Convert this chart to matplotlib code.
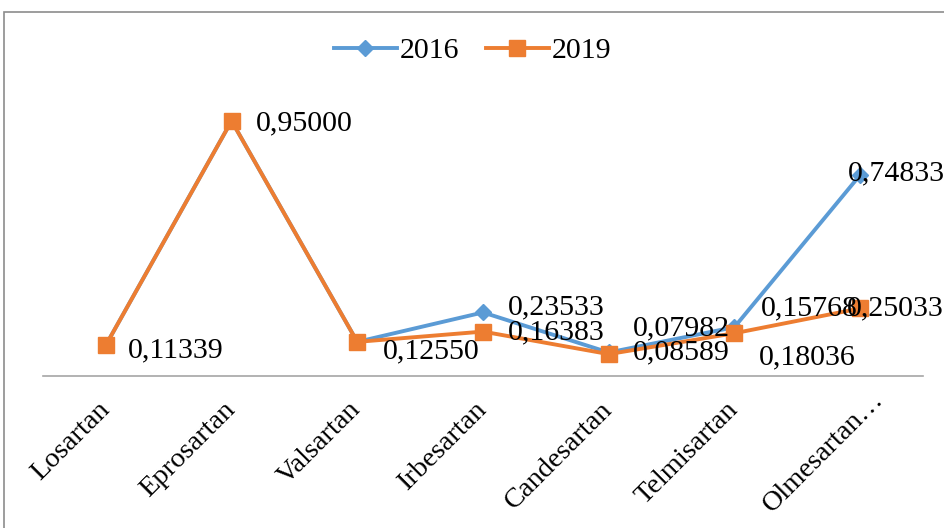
import numpy as np
import matplotlib
matplotlib.use("Agg")
import matplotlib.pyplot as plt
import matplotlib.transforms as mtransforms
from matplotlib.patches import Rectangle

plt.rcParams['font.family'] = ['Liberation Serif', 'DejaVu Serif']

categories = ['Losartan', 'Eprosartan', 'Valsartan', 'Irbesartan',
              'Candesartan', 'Telmisartan', 'Olmesartan…']
vals_2016 = [0.11339, 0.95000, 0.12550, 0.23533, 0.08589, 0.18036, 0.74833]
vals_2019 = [0.11339, 0.95000, 0.12550, 0.16383, 0.07982, 0.15768, 0.25033]

# which labels are shown and where (pixel offsets from the point)
lab_2016 = {3: (25, 5), 4: (24, 0), 5: (24, -30), 6: (-12, 2)}
lab_2019 = {0: (22, -5), 1: (24, -2), 2: (26, -10), 3: (25, -1),
            4: (24, 26), 5: (26, 25), 6: (-13, 0)}

blue = '#5B9BD5'
orange = '#ED7D31'

fig = plt.figure(figsize=(9.45, 5.28), dpi=100)
ax = fig.add_axes([43/945, 152.5/528, 880/945, 321.6/528])

x = np.arange(len(categories))
ax.plot(x, vals_2016, color=blue, lw=2.8, marker='D', ms=8, label='2016', zorder=3)
ax.plot(x, vals_2019, color=orange, lw=2.8, marker='s', ms=11.5, label='2019', zorder=4)

for vals, labs in [(vals_2016, lab_2016), (vals_2019, lab_2019)]:
    for i, (dx, dy) in labs.items():
        ax.annotate(f"{vals[i]:.5f}".replace('.', ','), (x[i], vals[i]),
                    xytext=(dx, dy), textcoords='offset pixels',
                    ha='left', va='center', fontsize=21.5, zorder=5)

ax.set_xlim(-0.5, len(categories) - 0.5)
ax.set_ylim(0, 1.2)
ax.set_yticks([])
for s in ['top', 'right', 'left']:
    ax.spines[s].set_visible(False)
ax.spines['bottom'].set_color('#a6a6a6')
ax.spines['bottom'].set_linewidth(1.2)
ax.set_xticks(x)
ax.set_xticklabels(categories, rotation=45, ha='right', va='center',
                   rotation_mode='anchor', fontsize=20.5)
ax.tick_params(axis='x', length=0, pad=22)
ax.patch.set_visible(False)

# last label sits a little further out, as in the original
last = ax.get_xticklabels()[-1]
last.set_transform(last.get_transform() +
                   mtransforms.ScaledTranslation(0.2, 0.1, fig.dpi_scale_trans))

fig.legend(loc='center', bbox_to_anchor=(0.5, 1 - 51/528), ncol=2,
           frameon=False, fontsize=21.5, handlelength=2.1, columnspacing=0.9,
           handletextpad=0.1)

fig.patches.append(Rectangle((4/945, -0.1), 1.2, 1 - 12/528 + 0.1,
                             transform=fig.transFigure, fill=False,
                             edgecolor='#8c8c8c', lw=1.2))

fig.savefig('out.png', dpi=100)
